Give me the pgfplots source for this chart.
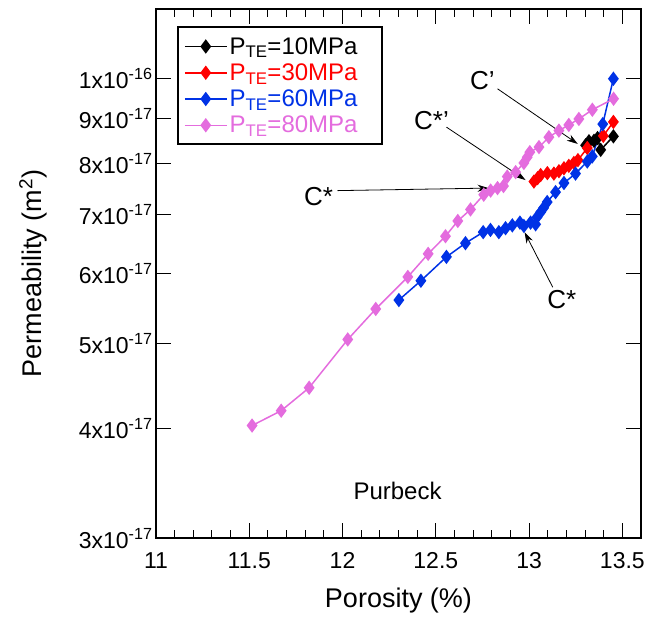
\documentclass[border=0pt]{standalone}
\usepackage{pgfplots}
\pgfplotsset{compat=1.18}
\usepackage{fontspec}
\setmainfont{Liberation Sans}
\usetikzlibrary{arrows.meta}
\definecolor{cpink}{RGB}{228,108,222}
\definecolor{cblue}{RGB}{0,50,230}
\definecolor{cred}{RGB}{255,0,0}
\begin{document}
\begin{tikzpicture}
\path[use as bounding box] (-156pt,-78pt) rectangle (491pt,538pt);
\begin{axis}[
  at={(0,0)}, anchor=south west,
  scale only axis, width=485pt, height=529pt,
  ymode=log, xmin=11, xmax=13.6, ymin=3e-17, ymax=1.2e-16,
  xtick={11,11.5,12,12.5,13,13.5},
  xticklabels={11,11.5,12,12.5,13,13.5},
  minor x tick num=4,
  ytick={3e-17,4e-17,5e-17,6e-17,7e-17,8e-17,9e-17,1e-16},
  yticklabels={3x10\textsuperscript{-17},4x10\textsuperscript{-17},5x10\textsuperscript{-17},6x10\textsuperscript{-17},7x10\textsuperscript{-17},8x10\textsuperscript{-17},9x10\textsuperscript{-17},1x10\textsuperscript{-16}},
  minor ytick={},
  major tick length=15pt, minor tick length=8pt,
  every tick/.style={black, line width=1pt},
  axis line style={line width=1.5pt},
  ticklabel style={font=\fontsize{23}{26}\selectfont},
  xticklabel shift=11pt,
  xlabel={Porosity (\%)}, ylabel={Permeability (m\textsuperscript{2})},
  label style={font=\fontsize{27}{30}\selectfont},
  xlabel shift=12pt, ylabel shift=25pt,
  legend style={at={(0.045,0.966)}, anchor=north west, draw=none, name=leg,
    font=\fontsize{24}{26}\selectfont, row sep=4pt, inner xsep=6pt, inner ysep=8pt},
  legend cell align=left,
  legend image code/.code={\draw[mark repeat=2,mark phase=2,line width=1.5pt] plot coordinates {(0pt,0pt) (21pt,0pt) (42pt,0pt)};},
  every axis plot/.append style={line width=1.5pt, mark=diamond*, mark size=6pt, mark options={aspect=1.1, solid, line width=0.5pt}},
]
\addplot[black, mark options={fill=black}] coordinates {
(13.303,8.40e-17) (13.321,8.49e-17) (13.348,8.50e-17) (13.367,8.56e-17) (13.384,8.30e-17) (13.452,8.60e-17)};
\addlegendentry{\textcolor{black}{P\textsubscript{TE}=10MPa}}
\addplot[cred, mark options={fill=cred}] coordinates {
(13.026,7.64e-17) (13.046,7.71e-17) (13.062,7.77e-17) (13.098,7.81e-17) (13.133,7.80e-17) (13.160,7.85e-17)
(13.187,7.91e-17) (13.213,7.96e-17) (13.240,8.02e-17) (13.262,8.08e-17) (13.312,8.34e-17) (13.398,8.61e-17) (13.452,8.93e-17)};
\addlegendentry{\textcolor{cred}{P\textsubscript{TE}=30MPa}}
\addplot[cblue, mark options={fill=cblue}] coordinates {
(12.302,5.60e-17) (12.420,5.89e-17) (12.557,6.27e-17) (12.659,6.50e-17) (12.754,6.69e-17) (12.793,6.73e-17)
(12.838,6.69e-17) (12.874,6.76e-17) (12.910,6.81e-17) (12.951,6.86e-17) (12.972,6.80e-17) (13.008,6.86e-17)
(13.035,6.83e-17) (13.043,6.96e-17) (13.062,7.05e-17) (13.078,7.13e-17) (13.097,7.24e-17) (13.142,7.43e-17)
(13.187,7.61e-17) (13.249,7.80e-17) (13.312,8.05e-17) (13.339,8.16e-17) (13.395,8.88e-17) (13.452,1.0e-16)};
\addlegendentry{\textcolor{cblue}{P\textsubscript{TE}=60MPa}}
\addplot[cpink, mark options={fill=cpink}] coordinates {
(11.515,4.03e-17) (11.671,4.19e-17) (11.821,4.45e-17) (12.028,5.05e-17) (12.178,5.47e-17) (12.350,5.95e-17)
(12.459,6.32e-17) (12.552,6.62e-17) (12.618,6.89e-17) (12.686,7.10e-17) (12.757,7.38e-17) (12.794,7.46e-17)
(12.831,7.51e-17) (12.863,7.55e-17) (12.883,7.74e-17) (12.928,7.83e-17) (12.972,8.02e-17) (12.990,8.14e-17)
(13.004,8.25e-17) (13.053,8.36e-17) (13.106,8.58e-17) (13.160,8.73e-17) (13.213,8.86e-17) (13.267,9.00e-17)
(13.339,9.22e-17) (13.453,9.49e-17)};
\addlegendentry{\textcolor{cpink}{P\textsubscript{TE}=80MPa}}
% annotations
\node[font=\fontsize{26}{28}\selectfont] at (axis cs:12.750,9.95e-17) {C'};
\draw[-{Stealth[length=11pt,width=7pt]}, line width=0.8pt] (axis cs:12.831,9.74e-17) -- (axis cs:13.261,8.43e-17);
\node[font=\fontsize{26}{28}\selectfont] at (axis cs:12.477,8.96e-17) {C*'};
\draw[-{Stealth[length=11pt,width=7pt]}, line width=0.8pt] (axis cs:12.557,8.81e-17) -- (axis cs:12.981,7.67e-17);
\node[font=\fontsize{26}{28}\selectfont] at (axis cs:11.871,7.34e-17) {C*};
\draw[-{Stealth[length=11pt,width=7pt]}, line width=0.8pt] (axis cs:11.973,7.46e-17) -- (axis cs:12.783,7.51e-17);
\node[font=\fontsize{26}{28}\selectfont] at (axis cs:13.175,5.60e-17) {C*};
\draw[-{Stealth[length=11pt,width=7pt]}, line width=0.8pt] (axis cs:13.127,5.79e-17) -- (axis cs:12.976,6.69e-17);
\node[font=\fontsize{24}{27}\selectfont] at (axis cs:12.295,3.40e-17) {Purbeck};
\end{axis}
\draw[line width=2pt] (leg.south west) rectangle ([xshift=16pt]leg.north east);
\end{tikzpicture}
\end{document}
